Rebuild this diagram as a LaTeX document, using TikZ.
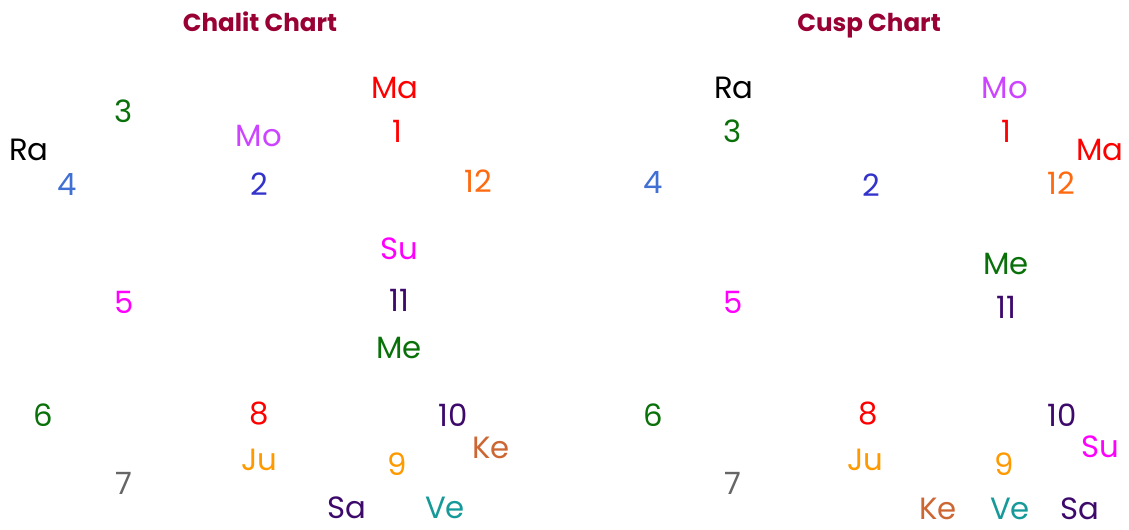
\documentclass[tikz,border=0pt]{standalone}
\usepackage{fontspec}
\setmainfont{Poppins}
\usepackage{tikz}
\usetikzlibrary{positioning}

\definecolor{titlered}{HTML}{990033}
\definecolor{grRa}{HTML}{000000}
\definecolor{grMo}{HTML}{CC44FF}
\definecolor{grMa}{HTML}{FF0000}
\definecolor{grSu}{HTML}{FF00FF}
\definecolor{grMe}{HTML}{0A700A}
\definecolor{grJu}{HTML}{FF9900}
\definecolor{grSa}{HTML}{3D0A6B}
\definecolor{grVe}{HTML}{159999}
\definecolor{grKe}{HTML}{CC6633}
\definecolor{hsBlue}{HTML}{4070D4}
\definecolor{hsNavy}{HTML}{3333CC}
\definecolor{hsOrange}{HTML}{FF6A10}
\definecolor{hsGray}{HTML}{666666}

\begin{document}
\begin{tikzpicture}[
    x=0.02cm, y=-0.02cm,
    font=\fontsize{17.5}{21}\selectfont,
    title/.style={font=\fontsize{14}{17}\selectfont\bfseries,text=titlered,inner sep=0pt,anchor=base},
    graha/.style={inner sep=0pt},
    house/.style={inner sep=0pt}
]
\useasboundingbox (0,0) rectangle (1129,529);

% Chalit chart
\node[title] (chalit_title) at (260,31) {Chalit Chart};
\node[graha,text=grMa] (chalit_ma) at (395,88) {Ma};
\node[house,text=grMa] (chalit_h1) at (397,131) {1};
\node[house,text=grMe] (chalit_h3) at (124,111) {3};
\node[graha,text=grMo] (chalit_mo) at (259,136) {Mo};
\node[graha,text=grRa] (chalit_ra) at (29,150) {Ra};
\node[house,text=hsBlue] (chalit_h4) at (67,184) {4};
\node[house,text=hsNavy] (chalit_h2) at (259,184) {2};
\node[house,text=hsOrange] (chalit_h12) at (478,181) {12};
\node[graha,text=grSu] (chalit_su) at (399,249) {Su};
\node[house,text=grSu] (chalit_h5) at (124,302) {5};
\node[house,text=grSa] (chalit_h11) at (399,300) {11};
\node[graha,text=grMe] (chalit_me) at (399,348) {Me};
\node[house,text=grMe] (chalit_h6) at (43,415) {6};
\node[house,text=grMa] (chalit_h8) at (259,414) {8};
\node[house,text=grSa] (chalit_h10) at (453,415) {10};
\node[graha,text=grKe] (chalit_ke) at (491,448) {Ke};
\node[graha,text=grJu] (chalit_ju) at (259,460) {Ju};
\node[house,text=grJu] (chalit_h9) at (397,464) {9};
\node[house,text=hsGray] (chalit_h7) at (124,483) {7};
\node[graha,text=grSa] (chalit_sa) at (347,508) {Sa};
\node[graha,text=grVe] (chalit_ve) at (445,508) {Ve};

% Cusp chart
\node[title] (cusp_title) at (869,31) {Cusp Chart};
\node[graha,text=grRa] (cusp_ra) at (734,88) {Ra};
\node[graha,text=grMo] (cusp_mo) at (1005,88) {Mo};
\node[house,text=grMe] (cusp_h3) at (733,131) {3};
\node[house,text=grMa] (cusp_h1) at (1006,131) {1};
\node[graha,text=grMa] (cusp_ma) at (1100,150) {Ma};
\node[house,text=hsBlue] (cusp_h4) at (653,182) {4};
\node[house,text=hsNavy] (cusp_h2) at (871,185) {2};
\node[house,text=hsOrange] (cusp_h12) at (1061,183) {12};
\node[graha,text=grMe] (cusp_me) at (1006,264) {Me};
\node[house,text=grSu] (cusp_h5) at (733,302) {5};
\node[house,text=grSa] (cusp_h11) at (1006,307) {11};
\node[house,text=grMe] (cusp_h6) at (653,415) {6};
\node[house,text=grMa] (cusp_h8) at (868,414) {8};
\node[house,text=grSa] (cusp_h10) at (1062,415) {10};
\node[graha,text=grSu] (cusp_su) at (1100,447) {Su};
\node[graha,text=grJu] (cusp_ju) at (865,460) {Ju};
\node[house,text=grJu] (cusp_h9) at (1004,464) {9};
\node[house,text=hsGray] (cusp_h7) at (733,483) {7};
\node[graha,text=grKe] (cusp_ke) at (938,509) {Ke};
\node[graha,text=grVe] (cusp_ve) at (1010,509) {Ve};
\node[graha,text=grSa] (cusp_sa) at (1080,509) {Sa};
\end{tikzpicture}
\end{document}
